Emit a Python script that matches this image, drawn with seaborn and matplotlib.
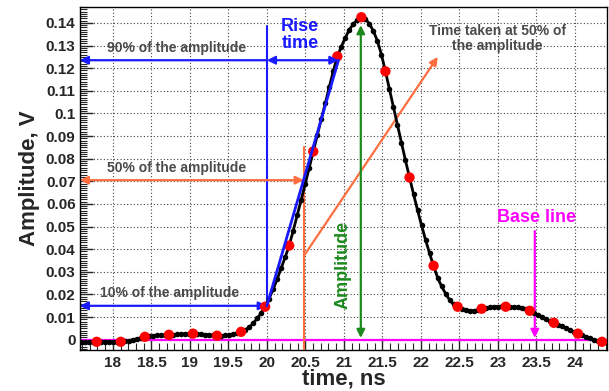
import numpy as np
import matplotlib
matplotlib.use("Agg")
import matplotlib.pyplot as plt
from matplotlib.ticker import MultipleLocator, FormatStrFormatter
import seaborn as sns

# === data ===
# digitiser samples (red), every 0.3125 ns starting at 17.79 ns
t_first_sample = 17.79
sample_step = 0.3125
sample_amp = [-0.0009, -0.0009, 0.0013, 0.0022, 0.0027, 0.0018, 0.0035, 0.0146,
              0.0416, 0.0832, 0.1252, 0.1425, 0.1186, 0.0717, 0.0327, 0.0146,
              0.0137, 0.0146, 0.0128, 0.0075, 0.0027, -0.0009]

# fine waveform (black), 6 points per sample, starts 4 fine steps before first sample
fine_step = sample_step / 6
fine_amp = [
    -1.2, -1.1, -1.0, -1.0,
    -0.9, -0.9, -0.9, -1.0, -1.0, -0.9,
    -0.9, -0.7, -0.4, 0.0, 0.4, 0.9,
    1.3, 1.6, 1.8, 1.9, 2.0, 2.1,
    2.2, 2.3, 2.4, 2.5, 2.6, 2.7,
    2.7, 2.6, 2.5, 2.3, 2.1, 1.9,
    1.8, 1.8, 1.9, 2.1, 2.5, 3.0,
    3.5, 4.3, 5.5, 7.2, 9.4, 11.9,
    14.6, 18.2, 22.3, 26.8, 31.6, 36.5,
    41.6, 48.2, 55.0, 61.9, 68.9, 76.0,
    83.2, 90.4, 97.5, 104.4, 111.8, 118.7,
    125.2, 129.5, 133.5, 137.0, 139.5, 141.3,
    142.5, 141.7, 139.6, 136.4, 132.0, 126.0,
    118.6, 110.8, 102.8, 94.8, 87.0, 79.2,
    71.7, 64.4, 57.3, 50.6, 44.2, 38.2,
    32.7, 27.5, 23.6, 20.4, 17.6, 15.6,
    14.6, 13.6, 13.0, 12.8, 12.9, 13.2,
    13.7, 14.0, 14.3, 14.5, 14.6, 14.7,
    14.6, 14.6, 14.5, 14.3, 14.0, 13.5,
    12.8, 12.0, 11.1, 10.1, 9.1, 8.3,
    7.5, 6.7, 5.9, 5.1, 4.3, 3.5,
    2.7, 2.0, 1.3, 0.6, 0.0, -0.5,
    -0.9, -1.2]
fine_amp = [v / 1000 for v in fine_amp]

t_sample = t_first_sample + sample_step * np.arange(len(sample_amp))
t_fine = t_first_sample + fine_step * (np.arange(len(fine_amp)) - 4)

# annotation levels / times
level_10, level_50, level_90 = 0.015, 0.0705, 0.1235
t_10, t_50, t_90 = 20.0, 20.48, 20.93
t_peak, t_base = 21.22, 23.48
xlim = (17.57, 24.42)
ylim = (-0.0045, 0.147)

# === style ===
sns.set_style("ticks")
plt.rcParams["font.family"] = ["Liberation Sans", "DejaVu Sans"]
plt.rcParams["font.weight"] = "bold"

blue = "#1a1aff"
orange = "#ff6e40"
green = "#1e8a1e"
magenta = "#ff00ff"
grey_txt = "#4a4a4a"

fig = plt.figure(figsize=(6.09, 3.91), dpi=100)
ax = fig.add_axes([0.131, 0.105, 0.866, 0.877])

ax.set_xlim(*xlim)
ax.set_ylim(*ylim)

# grid + ticks, ROOT-like
ax.xaxis.set_major_locator(MultipleLocator(0.5))
ax.xaxis.set_minor_locator(MultipleLocator(0.1))
ax.yaxis.set_major_locator(MultipleLocator(0.01))
ax.yaxis.set_minor_locator(MultipleLocator(0.001))
ax.xaxis.set_major_formatter(FormatStrFormatter("%g"))
ax.yaxis.set_major_formatter(FormatStrFormatter("%g"))
ax.grid(True, which="major", color="#444444", linestyle=(0, (1, 2)), linewidth=0.8)
ax.tick_params(which="major", direction="in", length=9, width=1, labelsize=11, pad=3)
ax.tick_params(which="minor", direction="in", length=5, width=0.8)
ax.tick_params(axis="x", which="major", pad=4)
for lab in ax.get_xticklabels() + ax.get_yticklabels():
    lab.set_fontweight("bold")
for sp in ax.spines.values():
    sp.set_linewidth(1)
    sp.set_color("black")

# baseline
ax.axhline(0, color=magenta, lw=1.6, zorder=2)

# waveform
sns.lineplot(x=t_fine, y=fine_amp, color="black", lw=2, marker="o", markersize=4,
             markeredgewidth=0, sort=False, ax=ax, zorder=4)
sns.scatterplot(x=t_sample, y=sample_amp, color="red", s=55, edgecolor="none", ax=ax, zorder=5)

arr = dict(lw=1.6, shrinkA=0, shrinkB=0, mutation_scale=12)

# blue: 10 % / 90 % levels and rise time
ax.plot([t_10, t_10], [level_10, 0.1385], color=blue, lw=1.5, zorder=3)
ax.plot([t_10, t_90], [level_10, level_90], color=blue, lw=2, zorder=6)
ax.annotate("", xy=(xlim[0], level_90), xytext=(t_10, level_90),
            arrowprops=dict(arrowstyle="-|>", color=blue, **arr))
ax.annotate("", xy=(t_90, level_90), xytext=(t_10, level_90),
            arrowprops=dict(arrowstyle="<|-|>", color=blue, **arr), zorder=6)
ax.annotate("", xy=(xlim[0], level_10), xytext=(t_10, level_10),
            arrowprops=dict(arrowstyle="<|-|>", color=blue, **arr))

# orange: 50 % level and time taken
ax.plot([t_50, t_50], [ylim[0], 0.085], color=orange, lw=1.5, zorder=3)
ax.annotate("", xy=(xlim[0], level_50), xytext=(t_50, level_50),
            arrowprops=dict(arrowstyle="<|-|>", color=orange, **arr))
ax.annotate("", xy=(22.22, 0.125), xytext=(t_50, 0.037),
            arrowprops=dict(arrowstyle="-|>", color=orange, **arr))

# green: amplitude
ax.annotate("", xy=(t_peak, 0.0008), xytext=(t_peak, 0.139),
            arrowprops=dict(arrowstyle="<|-|>", color=green, **arr))
ax.text(20.99, 0.033, "Amplitude", rotation=90, color=green, fontsize=13,
        fontweight="bold", ha="center", va="center")

# magenta: base line
ax.annotate("", xy=(t_base, 0.0008), xytext=(t_base, 0.048),
            arrowprops=dict(arrowstyle="-|>", color=magenta, **arr))
ax.text(23.5, 0.054, "Base line", color=magenta, fontsize=13, fontweight="bold",
        ha="center", va="center")

# grey labels
ax.text(18.83, 0.129, "90% of the amplitude", color=grey_txt, fontsize=10,
        fontweight="bold", ha="center", va="center")
ax.text(18.83, 0.076, "50% of the amplitude", color=grey_txt, fontsize=10,
        fontweight="bold", ha="center", va="center")
ax.text(18.74, 0.0208, "10% of the amplitude", color=grey_txt, fontsize=10,
        fontweight="bold", ha="center", va="center")
ax.text(22.99, 0.133, "Time taken at 50% of\nthe amplitude", color=grey_txt, fontsize=10,
        fontweight="bold", ha="center", va="center", linespacing=1.05)
ax.text(20.43, 0.1345, "Rise\ntime", color=blue, fontsize=13, fontweight="bold",
        ha="center", va="center", linespacing=1.0)

ax.set_xlabel("time, ns", fontsize=16, fontweight="bold", va="baseline")
ax.xaxis.set_label_coords(0.5, -0.102)
ax.set_ylabel("Amplitude, V", fontsize=16, fontweight="bold", labelpad=4)

fig.savefig("out.png", dpi=100)
